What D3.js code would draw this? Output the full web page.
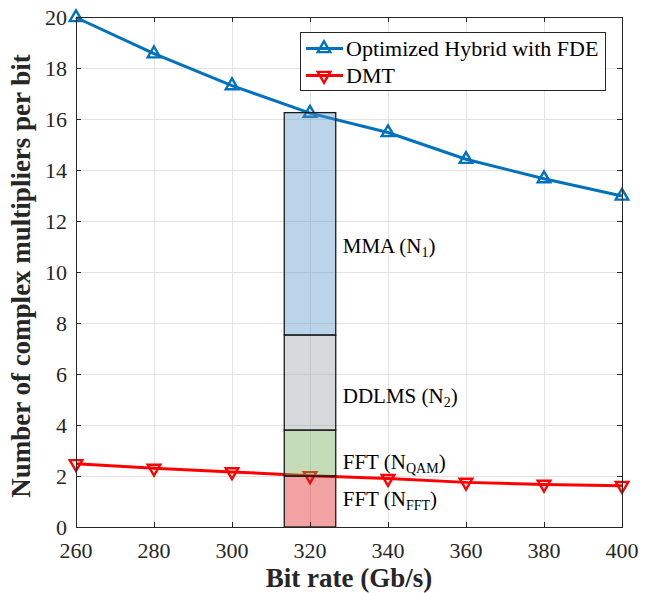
<!DOCTYPE html>
<html>
<head>
<meta charset="utf-8">
<script src="https://cdn.jsdelivr.net/npm/d3@7"></script>
<style>
  body { margin: 0; background: #fff; }
</style>
</head>
<body>
<div id="chart"></div>
<script>
// data
var bitRates = [260, 280, 300, 320, 340, 360, 380, 400];
var hybridFDE = [19.98, 18.56, 17.31, 16.23, 15.47, 14.42, 13.66, 12.98];
var dmt = [2.48, 2.30, 2.16, 2.01, 1.90, 1.75, 1.67, 1.62];

// stacked complexity breakdown at 320 Gb/s (bottom to top)
var stackNames = ["FFT (N_FFT)", "FFT (N_QAM)", "DDLMS (N_2)", "MMA (N_1)"];
var stackValues = [2.0, 1.8, 3.73, 8.72];
var stackAt = 320;
var stackWidth = 13.2;

var xTicks = [260, 280, 300, 320, 340, 360, 380, 400];
var yTicks = [0, 2, 4, 6, 8, 10, 12, 14, 16, 18, 20];

var width = 650, height = 593;
var margin = { left: 76, right: 28, top: 17, bottom: 66 };
var serif = "'Liberation Serif', 'Times New Roman', Times, serif";

var svg = d3.select("#chart").append("svg")
    .attr("width", width)
    .attr("height", height)
    .attr("font-family", serif)
    .style("font-family", serif);

var x = d3.scaleLinear().domain([260, 400]).range([margin.left, width - margin.right]);
var y = d3.scaleLinear().domain([0, 20]).range([height - margin.bottom, margin.top]);

// grid
var grid = svg.append("g").attr("stroke", "#e3e3e3").attr("stroke-width", 1);
grid.selectAll(".gx").data(xTicks).enter().append("line")
    .attr("x1", d => x(d) + 0.5).attr("x2", d => x(d) + 0.5)
    .attr("y1", y(0)).attr("y2", y(20));
grid.selectAll(".gy").data(yTicks).enter().append("line")
    .attr("y1", d => Math.round(y(d)) + 0.5).attr("y2", d => Math.round(y(d)) + 0.5)
    .attr("x1", x(260)).attr("x2", x(400));

// lines
var series = [
  { name: "Optimized Hybrid with FDE", vals: hybridFDE, color: "#0072BD", rot: 0 },
  { name: "DMT", vals: dmt, color: "#FF0000", rot: 180 }
];
var line = d3.line().x((d, i) => x(bitRates[i])).y(d => y(d));
var tri = d3.symbol().type(d3.symbolTriangle).size(68);

series.forEach(function(s) {
  svg.append("path")
      .attr("d", line(s.vals))
      .attr("fill", "none")
      .attr("stroke", s.color)
      .attr("stroke-width", 3);
  svg.selectAll(null).data(s.vals).enter().append("path")
      .attr("d", tri)
      .attr("transform", (d, i) => "translate(" + x(bitRates[i]) + "," + y(d) + ") rotate(" + s.rot + ")")
      .attr("fill", "none")
      .attr("stroke", s.color)
      .attr("stroke-width", 2.4);
});

// stacked bar (semi transparent, drawn over the lines)
var stackColors = ["rgb(222,22,22)", "rgb(110,167,80)", "rgb(150,160,167)", "rgb(87,147,202)"];
var cum = 0;
var stack = stackValues.map(function(v, i) {
  var s = { y0: cum, y1: cum + v, color: stackColors[i] };
  cum += v;
  return s;
});
svg.selectAll(".seg").data(stack).enter().append("rect")
    .attr("x", x(stackAt - stackWidth / 2))
    .attr("width", x(stackAt + stackWidth / 2) - x(stackAt - stackWidth / 2))
    .attr("y", d => y(d.y1))
    .attr("height", d => y(d.y0) - y(d.y1))
    .attr("fill", d => d.color)
    .attr("fill-opacity", 0.4)
    .attr("stroke", "#1a1a1a")
    .attr("stroke-width", 1.3);

// stack labels with subscripts
function subLabel(g, main, sub, tail, xx, yy) {
  var t = g.append("text").attr("x", xx).attr("y", yy).attr("font-size", 21).attr("fill", "#000");
  t.append("tspan").text(main);
  t.append("tspan").text(sub).attr("font-size", 14).attr("dy", 4);
  t.append("tspan").text(tail).attr("dy", -4);
}
var labelX = x(stackAt + stackWidth / 2) + 7;
var labels = svg.append("g");
subLabel(labels, "MMA (N", "1", ")", labelX, y(10.75));
subLabel(labels, "DDLMS (N", "2", ")", labelX, y(4.85));
subLabel(labels, "FFT (N", "QAM", ")", labelX, y(2.28));
subLabel(labels, "FFT (N", "FFT", ")", labelX, y(0.82));

// axes box and ticks
var box = svg.append("g").attr("stroke", "#262626").attr("stroke-width", 1).attr("fill", "none");
box.append("rect")
    .attr("x", x(260) + 0.5).attr("y", y(20) + 0.5)
    .attr("width", x(400) - x(260)).attr("height", y(0) - y(20));
box.selectAll(".tb").data(xTicks).enter().append("path")
    .attr("d", d => "M" + (x(d) + 0.5) + "," + y(0) + "v-5M" + (x(d) + 0.5) + "," + y(20) + "v5");
box.selectAll(".tl").data(yTicks).enter().append("path")
    .attr("d", d => "M" + x(260) + "," + (Math.round(y(d)) + 0.5) + "h5M" + x(400) + "," + (Math.round(y(d)) + 0.5) + "h-5");

svg.selectAll(".xl").data(xTicks).enter().append("text")
    .attr("x", d => x(d)).attr("y", y(0) + 31)
    .attr("text-anchor", "middle").attr("font-size", 22).attr("fill", "#262626")
    .text(d => d);
svg.selectAll(".yl").data(yTicks).enter().append("text")
    .attr("x", x(260) - 9).attr("y", d => y(d) + 8)
    .attr("text-anchor", "end").attr("font-size", 22).attr("fill", "#262626")
    .text(d => d);

svg.append("text")
    .attr("x", (x(260) + x(400)) / 2).attr("y", 587)
    .attr("text-anchor", "middle").attr("font-size", 27).attr("font-weight", "bold").attr("fill", "#262626")
    .text("Bit rate (Gb/s)");
svg.append("text")
    .attr("transform", "translate(30,276) rotate(-90)")
    .attr("text-anchor", "middle").attr("font-size", 27).attr("font-weight", "bold").attr("fill", "#262626")
    .text("Number of complex multipliers per bit");

// legend
var legend = svg.append("g").attr("transform", "translate(300,32)");
legend.append("rect")
    .attr("x", 0.5).attr("y", 0.5).attr("width", 305).attr("height", 58)
    .attr("fill", "#fff").attr("stroke", "#262626").attr("stroke-width", 1);
series.forEach(function(s, i) {
  var ly = 16.5 + i * 27;
  legend.append("line")
      .attr("x1", 6).attr("x2", 43).attr("y1", ly).attr("y2", ly)
      .attr("stroke", s.color).attr("stroke-width", 3);
  legend.append("path")
      .attr("d", tri)
      .attr("transform", "translate(24," + ly + ") rotate(" + s.rot + ")")
      .attr("fill", "none").attr("stroke", s.color).attr("stroke-width", 2.4);
  legend.append("text")
      .attr("x", 46).attr("y", ly + 7.5).attr("font-size", 22).attr("fill", "#000")
      .text(s.name);
});
</script>
</body>
</html>
